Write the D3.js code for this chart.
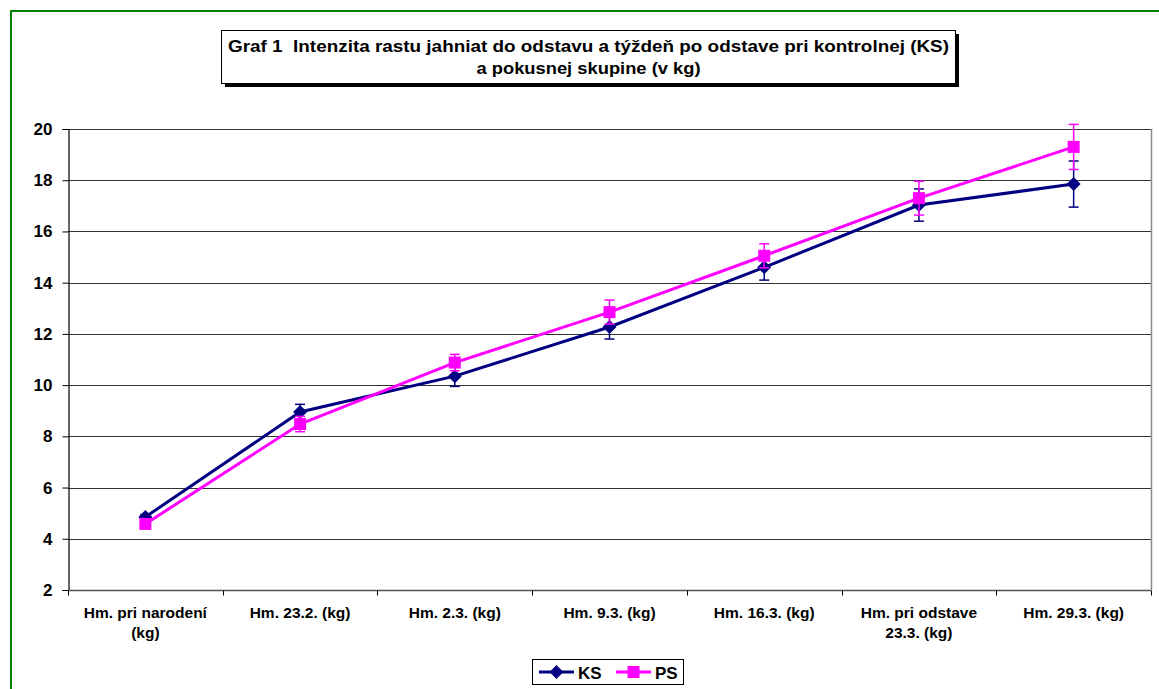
<!DOCTYPE html>
<html><head><meta charset="utf-8">
<script src="https://cdn.jsdelivr.net/npm/d3@7"></script>
<style>
html,body{margin:0;padding:0;background:#fff;overflow:hidden;}
svg{display:block;font-family:"Liberation Sans",Arial,sans-serif;}
</style></head>
<body>
<svg id="c" width="1159" height="689"></svg>
<script>
const categories = [["Hm. pri narodení","(kg)"],["Hm. 23.2. (kg)"],["Hm. 2.3. (kg)"],["Hm. 9.3. (kg)"],["Hm. 16.3. (kg)"],["Hm. pri odstave","23.3. (kg)"],["Hm. 29.3. (kg)"]];
const ksValues = [4.85, 8.95, 10.35, 12.27, 14.6, 17.03, 17.85];
const ksErrors = [0.1, 0.3, 0.4, 0.47, 0.5, 0.63, 0.9];
const psValues = [4.58, 8.48, 10.88, 12.85, 15.05, 17.3, 19.3];
const psErrors = [0.1, 0.3, 0.32, 0.47, 0.47, 0.66, 0.88];
const yTicks = [2,4,6,8,10,12,14,16,18,20];
const titleLines = ["Graf 1\u00a0\u00a0Intenzita rastu jahniat do odstavu a týždeň po odstave pri kontrolnej (KS)","a pokusnej skupine (v kg)"];

const svg = d3.select("#c");
const L=68, R=1151, T=129, B=590;
const x = d3.scaleBand().domain(d3.range(categories.length)).range([L,R]).paddingInner(0).paddingOuter(0);
const y = d3.scaleLinear().domain([2,20]).range([B,T]);
const cx = i => x(i)+x.bandwidth()/2;

// outer green frame
svg.append("rect").attr("x",11).attr("y",11).attr("width",1160).attr("height",700)
  .attr("fill","none").attr("stroke","#008000").attr("stroke-width",2);

// gridlines
svg.append("g").selectAll("line").data(yTicks).join("line")
  .attr("x1",L).attr("x2",R).attr("y1",d=>Math.round(y(d))+0.5).attr("y2",d=>Math.round(y(d))+0.5)
  .attr("stroke","#333").attr("stroke-width",1.2);
// right border
svg.append("line").attr("x1",R+0.5).attr("x2",R+0.5).attr("y1",T).attr("y2",B).attr("stroke","#888").attr("stroke-width",1.5);

// y axis
const yAxis = d3.axisLeft(y).tickValues(yTicks).tickSize(6).tickPadding(10);
const gy = svg.append("g").attr("transform",`translate(${L+0.5},0)`).call(yAxis);
gy.select(".domain").attr("stroke","#000").attr("stroke-width",1.2);
gy.selectAll(".tick line").attr("stroke","#000");
gy.selectAll("text").attr("font-size",17).attr("font-weight","bold").attr("fill","#000").attr("font-family","Liberation Sans, Arial, sans-serif");

// x axis
const gx = svg.append("g").attr("transform",`translate(0,${Math.round(y(2))+0.5})`);
gx.append("line").attr("x1",L).attr("x2",R).attr("stroke","#555").attr("stroke-width",1.5);
const bounds = d3.range(categories.length+1).map(i=> i<categories.length ? x(i) : R);
gx.selectAll("line.tk").data(bounds).join("line").attr("class","tk")
  .attr("x1",d=>Math.round(d)+0.5).attr("x2",d=>Math.round(d)+0.5).attr("y1",0).attr("y2",5).attr("stroke","#000");
const xl = gx.selectAll("text").data(categories).join("text")
  .attr("text-anchor","middle").attr("font-size",15.5).attr("font-weight","bold").attr("fill","#000")
  .attr("x",(d,i)=>cx(i)).attr("y",27);
xl.selectAll("tspan").data(d=>d).join("tspan").attr("x",function(){return this.parentNode.getAttribute("x");})
  .attr("dy",(d,i)=>i===0?0:20).text(d=>d);

// series
const series = [
  {name:"KS", values:ksValues, errors:ksErrors, color:"#000080", shape:"diamond"},
  {name:"PS", values:psValues, errors:psErrors, color:"#FF00FF", shape:"square"}
];
const line = d3.line().x((d,i)=>cx(i)).y(d=>y(d));
function drawMarker(g, shape, color, px, py){
  if(shape==="square"){
    g.append("rect").attr("x",px-6).attr("y",py-6).attr("width",12).attr("height",12).attr("fill",color);
  } else {
    g.append("path").attr("d","M0,-7L7,0L0,7L-7,0Z").attr("transform",`translate(${px},${py})`).attr("fill",color);
  }
}
series.forEach(s=>{
  const g = svg.append("g");
  s.values.forEach((v,i)=>{
    const e = s.errors[i], px = cx(i);
    g.append("line").attr("x1",px).attr("x2",px).attr("y1",y(v+e)).attr("y2",y(v-e)).attr("stroke",s.color).attr("stroke-width",1.5);
    [v+e, v-e].forEach(t=>g.append("line").attr("x1",px-5).attr("x2",px+5).attr("y1",y(t)).attr("y2",y(t)).attr("stroke",s.color).attr("stroke-width",1.5));
  });
  g.append("path").datum(s.values).attr("d",line).attr("fill","none").attr("stroke",s.color).attr("stroke-width",3);
  s.values.forEach((v,i)=>drawMarker(g, s.shape, s.color, cx(i), y(v)));
});

// title box
const tb = svg.append("g");
tb.append("rect").attr("x",225).attr("y",34).attr("width",734).attr("height",53).attr("fill","#000");
tb.append("rect").attr("x",221.5).attr("y",30.5).attr("width",734).attr("height",53).attr("fill","#fff").attr("stroke","#000").attr("stroke-width",1);
const tl = [721, 224];
tb.selectAll("text").data(titleLines).join("text").attr("x",588.5).attr("y",(d,i)=>52+i*22)
  .attr("text-anchor","middle").attr("font-size",17).attr("font-weight","bold").attr("fill","#000")
  .attr("textLength",(d,i)=>tl[i]).attr("lengthAdjust","spacingAndGlyphs").text(d=>d);

// legend
const lg = svg.append("g");
lg.append("rect").attr("x",532.5).attr("y",659.5).attr("width",151).attr("height",25).attr("fill","#fff").attr("stroke","#000");
series.forEach((s,i)=>{
  const x0 = 539 + i*77;
  lg.append("line").attr("x1",x0).attr("x2",x0+35).attr("y1",672).attr("y2",672).attr("stroke",s.color).attr("stroke-width",3);
  drawMarker(lg, s.shape, s.color, x0+17.5, 672);
  lg.append("text").attr("x",x0+39).attr("y",678.5).attr("font-size",17).attr("font-weight","bold").attr("fill","#000").text(s.name);
});
</script>
</body></html>
